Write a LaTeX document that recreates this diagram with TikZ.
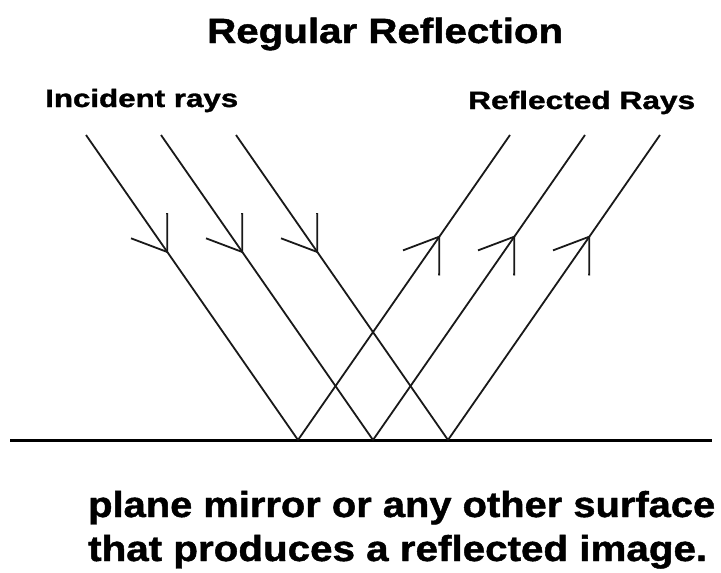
\documentclass[tikz,border=0pt]{standalone}
\usepackage{fontspec}
\usepackage{graphicx}
\setmainfont{Liberation Sans}[BoldFeatures={FakeBold=1.2}]
\usetikzlibrary{arrows.meta,decorations.markings,calc}
\newcommand{\fitw}[2]{\resizebox{#1}{\height}{#2}}
\begin{document}
\begin{tikzpicture}[x=1pt,y=-1pt,
  ray/.style={line width=1.8pt, black!90},
  mirrorline/.style={line width=2.2pt, black},
  lbl/.style={inner sep=0pt, anchor=base west},
  inarrow/.style={postaction={decorate}, decoration={markings,
      mark=at position 0.388 with {\arrow{Straight Barb[length=32pt,width=44pt]}}}},
  outarrow/.style={postaction={decorate}, decoration={markings,
      mark=at position 0.671 with {\arrow{Straight Barb[length=32pt,width=44pt]}}}}]
\useasboundingbox (0,0) rectangle (721,573);
% texts
\node[lbl, font=\bfseries\fontsize{35}{40}\selectfont] (title) at (207,43) {\fitw{356pt}{Regular Reflection}};
\node[lbl, font=\bfseries\fontsize{25}{30}\selectfont] (inc) at (45,107) {\fitw{193pt}{Incident rays}};
\node[lbl, font=\bfseries\fontsize{25}{30}\selectfont] (refl) at (468,109) {\fitw{227pt}{Reflected Rays}};
\node[lbl, font=\bfseries\fontsize{36}{44}\selectfont] (capA) at (88,517) {\fitw{627pt}{plane mirror or any other surface}};
\node[lbl, font=\bfseries\fontsize{36}{44}\selectfont] (capB) at (88,561) {\fitw{619pt}{that produces a reflected image.}};
% mirror
\coordinate (ml) at (10,440.5);
\coordinate (mr) at (712,440.5);
\draw[mirrorline] (ml) -- (mr);
% hit points
\coordinate (h1) at (298,440);
\coordinate (h2) at (373,440);
\coordinate (h3) at (448,440);
% incident starts
\coordinate (s1) at (86,135);
\coordinate (s2) at (161,135);
\coordinate (s3) at (236,135);
% reflected ends
\coordinate (e1) at (510,135);
\coordinate (e2) at (585,135);
\coordinate (e3) at (660,135);
\foreach \i in {1,2,3}{
  \draw[ray, inarrow] (s\i) -- (h\i);
  \draw[ray, outarrow] (h\i) -- (e\i);
}
\end{tikzpicture}
\end{document}
